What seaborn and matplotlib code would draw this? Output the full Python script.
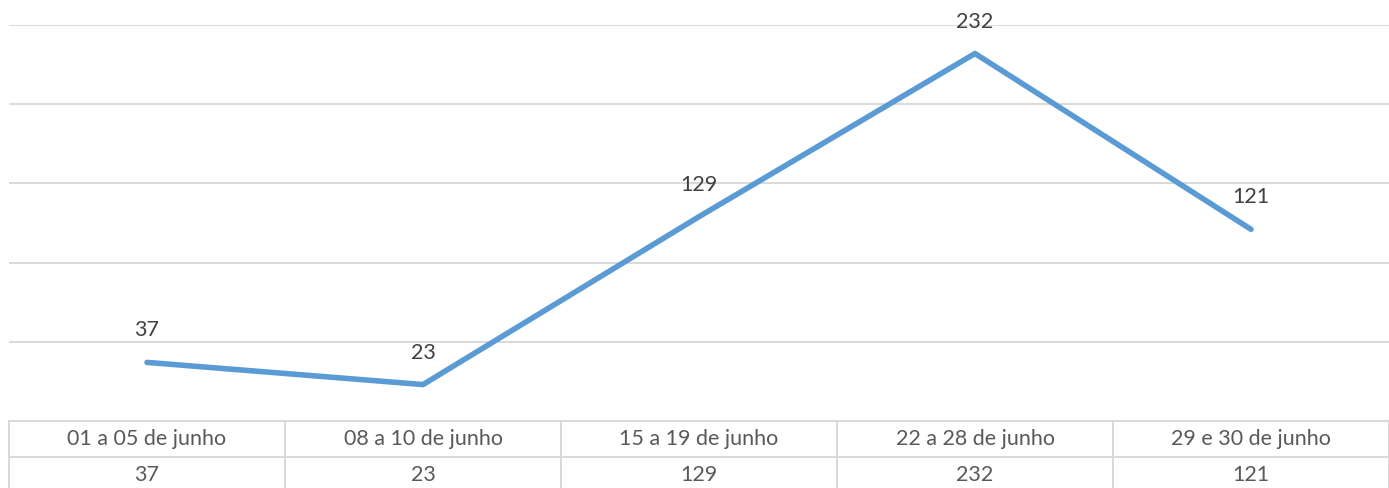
import matplotlib
matplotlib.use("Agg")
import matplotlib.pyplot as plt
import seaborn as sns
import pandas as pd

# values
periods = ["01 a 05 de junho", "08 a 10 de junho", "15 a 19 de junho",
           "22 a 28 de junho", "29 e 30 de junho"]
counts = [37, 23, 129, 232, 121]

def main():
    df = pd.DataFrame({"periodo": periods, "total": counts})

    sns.set_theme(style="white")
    plt.rcParams['font.family'] = ['Lato', 'DejaVu Sans']

    fig = plt.figure(figsize=(13.89, 4.88), dpi=100)
    ax = fig.add_axes([9 / 1389, 1 - 421 / 488, 1 - 9 / 1389, 396 / 488])

    sns.lineplot(data=df, x="periodo", y="total", ax=ax,
                 color="#5B9BD5", linewidth=4.0, sort=False)

    ax.set_ylim(0, 250)
    ax.set_xlim(-0.5, len(periods) - 0.5)
    ax.set_yticks([0, 50, 100, 150, 200, 250])
    ax.yaxis.grid(True, color="#d9d9d9", linewidth=1.4)
    ax.set_axisbelow(True)
    ax.set_xticks([])
    ax.set_yticklabels([])
    ax.tick_params(left=False, bottom=False)
    ax.set_xlabel("")
    ax.set_ylabel("")
    for s in ax.spines.values():
        s.set_visible(False)

    # data labels above each point
    for i, v in enumerate(counts):
        ax.annotate(str(v), (i, v), xytext=(0, 23), textcoords="offset points",
                    ha="center", va="center", fontsize=15.5, color="#404040")

    # data table under the plot
    tbl = ax.table(cellText=[periods, [str(c) for c in counts]],
                   cellLoc="center", bbox=[0, -0.182, 1, 0.182])
    tbl.auto_set_font_size(False)
    tbl.set_fontsize(15.5)
    for cell in tbl.get_celld().values():
        cell.set_edgecolor("#d9d9d9")
        cell.set_linewidth(1.4)
        cell.get_text().set_color("#595959")

    fig.savefig("out.png", dpi=100)

if __name__ == "__main__":
    main()
